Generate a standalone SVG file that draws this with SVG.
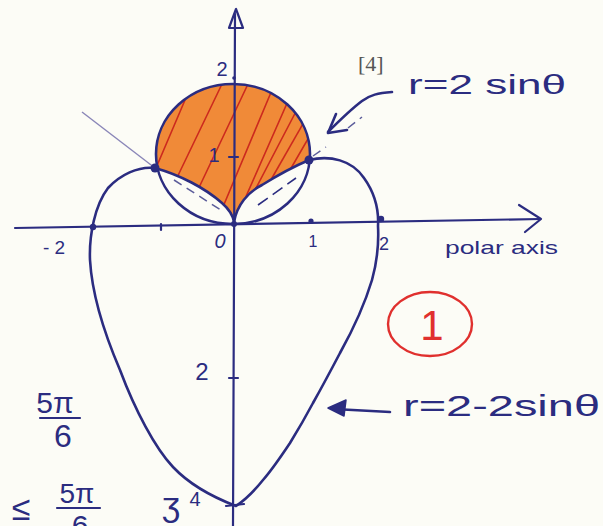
<svg xmlns="http://www.w3.org/2000/svg" width="603" height="526" viewBox="0 0 603 526">
<style>
.ink{fill:none;stroke:#2b2c80;stroke-width:2.6;stroke-linecap:round;stroke-linejoin:round}
.ax{fill:none;stroke:#2b2c80;stroke-width:2.2;stroke-linecap:round;stroke-linejoin:round}
.hatch{stroke:#cc2a1e;stroke-width:1.6;stroke-linecap:round}
.dash{fill:none;stroke:#5b5c9a;stroke-width:1.5;stroke-dasharray:9 6}
.t{font-family:"Liberation Sans","DejaVu Sans",sans-serif;fill:#2b2c80}
.red{fill:#e0302e}
.dot{fill:#2b2c80}
</style>
<defs>
<clipPath id="orangeClip">
<path d="M157.6,168 A77,70 0 1 1 309.7,160 C295,166 278,175 262,185 C248,192 237,205 234,222 C233,216 230,210 222,203 C205,188 180,175 157.6,168 Z"/>
</clipPath>
</defs>
<rect width="603" height="526" fill="#fcfcf6"/>

<g id="shaded-region">
<path d="M157.6,168 A77,70 0 1 1 309.7,160 C295,166 278,175 262,185 C248,192 237,205 234,222 C233,216 230,210 222,203 C205,188 180,175 157.6,168 Z" fill="#f08a38"/>
<g clip-path="url(#orangeClip)">
<line class="hatch" x1="150" y1="182" x2="185" y2="100"/>
<line class="hatch" x1="172" y1="188" x2="222" y2="84"/>
<line class="hatch" x1="195" y1="196" x2="248" y2="84"/>
<line class="hatch" x1="220" y1="214" x2="272" y2="90"/>
<line class="hatch" x1="240" y1="210" x2="292" y2="92"/>
<line class="hatch" x1="255" y1="190" x2="302" y2="100"/>
<line class="hatch" x1="272" y1="178" x2="312" y2="108"/>
<line class="hatch" x1="290" y1="170" x2="320" y2="118"/>
</g>
</g>

<g id="axes">
<line class="ax" x1="15" y1="228" x2="540" y2="219"/>
<polyline class="ax" points="519,205 541,219 525,232"/>
<line class="ax" x1="235" y1="14" x2="233" y2="526"/>
<polygon class="ax" points="236,9 229,28 243,28"/>
<line class="ax" x1="161" y1="224" x2="161" y2="230" stroke-width="1.6"/>
<line class="ax" x1="229" y1="157" x2="238" y2="157" stroke-width="1.6"/>
<line class="ax" x1="229" y1="378" x2="238" y2="378" stroke-width="1.6"/>
<circle class="dot" cx="311" cy="221" r="2.6"/>
<circle class="dot" cx="93" cy="227" r="3.2"/>
<circle class="dot" cx="381" cy="219" r="3.2"/>
<circle class="dot" cx="234" cy="224" r="3"/>
<circle class="dot" cx="234" cy="78" r="1.8"/>
</g>

<g id="tangent-lines">
<line x1="82" y1="112" x2="155" y2="168" stroke="#8a86b8" stroke-width="1.4"/>
<line class="dash" x1="174" y1="180" x2="224" y2="212"/>
<line x1="258" y1="205" x2="296" y2="178" stroke="#2b2c80" stroke-width="1.6" stroke-dasharray="12 6"/>
<line class="dash" x1="313" y1="156" x2="326" y2="147"/>
<line class="dash" x1="348" y1="128" x2="362" y2="117"/>
</g>

<g id="circle-r-2sin">
<ellipse class="ink" cx="233" cy="154" rx="77" ry="70"/>
</g>

<g id="cardioid">
<path class="ink" d="M309,160 C330,155 352,160 364,178 C374,192 379,208 378,226 C379,245 377,262 372,280 C363,310 350,335 340,353 C330,372 322,387 313,403 C305,418 298,430 290,443 C280,458 270,472 263,480 C255,490 245,500 236,506 C215,498 190,485 173,467 C155,448 135,410 120,370 C105,335 92,295 90,260 C89,235 95,205 108,188 C120,175 138,166 155,168"/>
<path class="ink" d="M155,168 C180,175 205,188 222,203 C230,210 233,216 234,222"/>
<path class="ink" d="M234,222 C237,205 248,192 262,185 C278,175 295,166 309,160"/>
<circle class="dot" cx="155" cy="168" r="4.5"/>
<circle class="dot" cx="309" cy="160" r="4.5"/>
<line class="ax" x1="226" y1="506" x2="244" y2="504"/>
</g>

<g id="label-circle">
<text x="358" y="71" font-family="Liberation Serif,serif" font-size="22" fill="#555">[4]</text>
<text class="t" x="408" y="94" font-size="27" textLength="158" lengthAdjust="spacingAndGlyphs">r=2 sinθ</text>
<path class="ink" d="M392,92 C378,93 370,95 362,101 C350,110 338,122 328,132"/>
<polyline class="ink" points="336,114 328,133 347,130"/>
</g>

<g id="label-cardioid">
<text class="t" x="403" y="416" font-size="30" textLength="197" lengthAdjust="spacingAndGlyphs">r=2-2sinθ</text>
<line class="ink" x1="390" y1="412" x2="334" y2="409"/>
<polygon points="328,408 346,400 344,416" fill="#2b2c80" stroke="#2b2c80" stroke-width="1.5" stroke-linejoin="round"/>
</g>

<g id="label-one">
<ellipse cx="430" cy="324" rx="42" ry="32" fill="none" stroke="#e0302e" stroke-width="2.4"/>
<text class="t red" x="432" y="340" font-size="42" text-anchor="middle">1</text>
</g>

<g id="axis-labels">
<text class="t" x="43" y="254" font-size="19">- 2</text>
<text class="t" x="220" y="248" font-size="20" text-anchor="middle" font-style="italic">0</text>
<text class="t" x="313" y="247" font-size="16" text-anchor="middle">1</text>
<text class="t" x="384" y="250" font-size="18" text-anchor="middle">2</text>
<text class="t" x="222" y="76" font-size="20" text-anchor="middle">2</text>
<text class="t" x="214" y="162" font-size="20" text-anchor="middle">1</text>
<text class="t" x="202" y="380" font-size="24" text-anchor="middle">2</text>
<text class="t" x="171" y="516" font-size="34" text-anchor="middle">ʒ</text>
<text class="t" x="195" y="506" font-size="20" text-anchor="middle">4</text>
<text class="t" x="445" y="254" font-size="19" textLength="113" lengthAdjust="spacingAndGlyphs">polar axis</text>
</g>

<g id="left-notes">
<text class="t" x="55" y="413" font-size="30" text-anchor="middle">5π</text>
<line class="ax" x1="40" y1="418" x2="80" y2="418"/>
<text class="t" x="63" y="447" font-size="32" text-anchor="middle">6</text>
<text class="t" x="21" y="520" font-size="34" text-anchor="middle">≤</text>
<text class="t" x="77" y="503" font-size="28" text-anchor="middle">5π</text>
<line class="ax" x1="57" y1="508" x2="100" y2="508"/>
<text class="t" x="80" y="536" font-size="30" text-anchor="middle">6</text>
</g>
</svg>
